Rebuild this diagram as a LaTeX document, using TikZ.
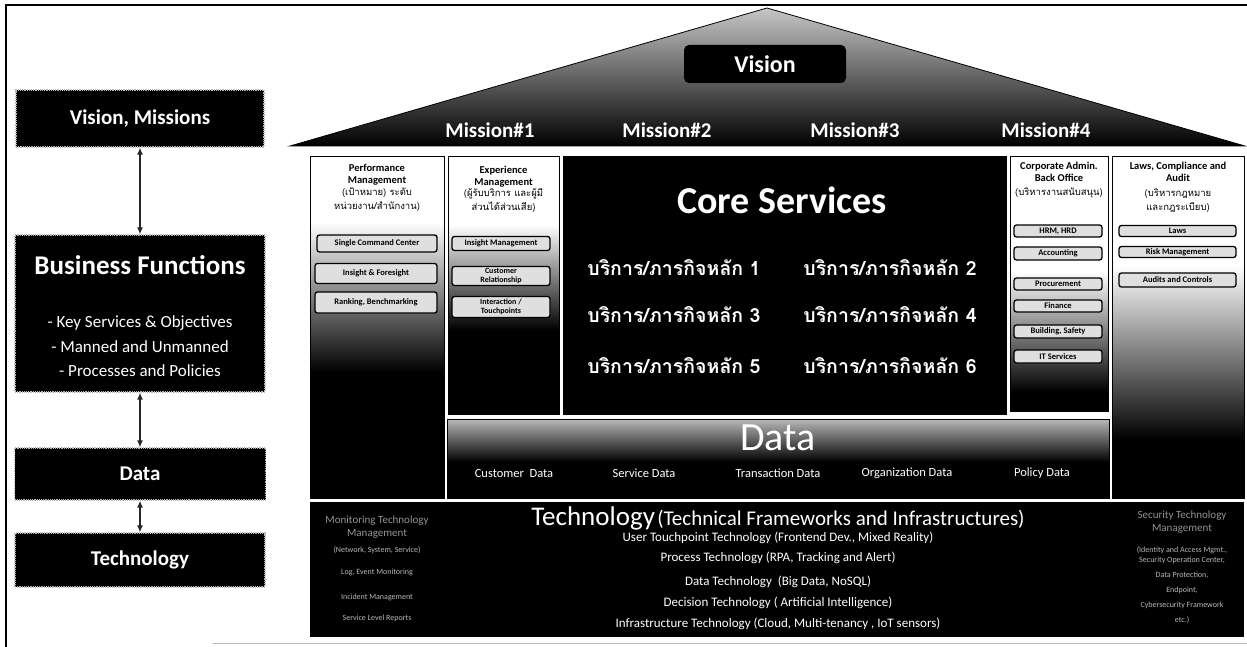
\documentclass[tikz,border=0pt]{standalone}
\usepackage{fontspec}
\setmainfont{Carlito}
\newfontfamily\thai[Script=Thai]{Loma}
\usetikzlibrary{arrows.meta}
\newcommand\fsz[2]{\fontsize{#1}{#2}\selectfont}
\newcommand\colshade[6]{%
  \fill[white] (#1,#2) rectangle (#3,#5);
  \shade[top color=white,bottom color=black] (#1,#5) rectangle (#3,#6);
  \fill[black] (#1,#6) rectangle (#3,#4);}
\tikzset{
  lbox/.style={fill=black, draw=gray!55, densely dotted, line width=1.2pt, text=white, font=\bfseries\fsz{21}{25}, inner sep=0pt},
  wt/.style={text=white, inner sep=0pt, align=center},
  colb/.style={draw=black, line width=0.9pt, inner sep=0pt},
  sbox/.style={draw=black, line width=1.3pt, rounded corners=2.5pt, fill=gray!25, text=black, font=\bfseries\fsz{8.5}{9}, align=center, inner sep=0pt},
  ctitle/.style={text=black, font=\bfseries\fsz{10.5}{12}, align=center, inner sep=0pt},
  cthai/.style={text=black, font=\thai\fsz{9.5}{14}, align=center, inner sep=0pt},
  arr/.style={{Latex[length=7pt,width=6pt]}-{Latex[length=7pt,width=6pt]}, line width=1.6pt, draw=black!85},
  svc/.style={text=white, font=\thai\bfseries\fsz{19.5}{22}, inner sep=0pt},
  dlab/.style={text=white, font=\fsz{12.5}{15}, inner sep=0pt},
  tlab/.style={text=white, font=\fsz{13}{15}, inner sep=0pt},
  faint/.style={text=gray!55, font=\fsz{8}{9}, inner sep=0pt},
  side/.style={text=gray!85, font=\fsz{11}{13}, align=center, inner sep=0pt},
  mis/.style={text=white, font=\bfseries\fsz{21}{25}, inner sep=0pt}
}
\begin{document}
\begin{tikzpicture}[x=1pt,y=-1pt]
\useasboundingbox (0,0) rectangle (1247,647);
\fill[white] (0,0) rectangle (1247,647);
% frame
\draw[line width=1.6pt] (6,647) -- (6,5) -- (1247,5);
\draw[gray!55, line width=1pt] (213,643) -- (1247,643);

% ---------- left column ----------
\node[lbox, minimum width=248, minimum height=57] (vm) at (140,118.5) {Vision, Missions};
\node[lbox, minimum width=250, minimum height=157] (bf) at (140,313.5) {};
\node[wt, font=\bfseries\fsz{27}{30}] (bft) at (140,265) {Business Functions};
\node[wt, font=\fsz{17}{20}] (bf1) at (140,323) {- Key Services \& Objectives};
\node[wt, font=\fsz{17}{20}] (bf2) at (140,347) {- Manned and Unmanned};
\node[wt, font=\fsz{17}{20}] (bf3) at (140,371) {- Processes and Policies};
\node[lbox, minimum width=251, minimum height=52] (dat) at (140,474) {Data};
\node[lbox, minimum width=250, minimum height=54] (tch) at (140,560) {Technology};
\draw[arr] (vm.south) -- (bf.north);
\draw[arr] (bf.south) -- (dat.north);
\draw[arr] (dat.south) -- (tch.north);

% ---------- roof ----------
\coordinate (apex) at (767,8);
\coordinate (rl) at (290,146);
\coordinate (rr) at (1245,146);
\shadedraw[top color=gray!45, bottom color=black, draw=black, line width=0.8pt] (rl) -- (apex) -- (rr) -- cycle;
\node[fill=black, rounded corners=5pt, minimum width=162, minimum height=38, text=white, font=\bfseries\fsz{24}{28}, inner sep=0pt] (vis) at (765,64) {Vision};
\node[mis] (m1) at (490,130) {Mission\#1};
\node[mis] (m2) at (667,130) {Mission\#2};
\node[mis] (m3) at (855,130) {Mission\#3};
\node[mis] (m4) at (1046,130) {Mission\#4};

% ---------- Performance Management ----------
\colshade{310}{156}{444}{498}{222}{372}
\node[colb, minimum width=134, minimum height=342, anchor=north west] (perf) at (310,156) {};
\node[ctitle] (perft) at (377,175) {Performance\\Management};
\node[cthai] (perfth) at (377,200) {(เป้าหมาย) ระดับ\\หน่วยงาน/สำนักงาน)};
\node[sbox, minimum width=120, minimum height=17] (p1) at (377,243.5) {Single Command Center};
\node[sbox, minimum width=122, minimum height=20] (p2) at (376,273.5) {Insight \& Foresight};
\node[sbox, minimum width=122, minimum height=21] (p3) at (376,302.5) {Ranking, Benchmarking};

% ---------- Experience Management ----------
\colshade{448}{156}{559}{414}{225}{330}
\node[colb, minimum width=111, minimum height=258, anchor=north west] (expc) at (448,156) {};
\node[ctitle] (expt) at (503.5,177) {Experience\\Management};
\node[cthai] (expth) at (503.5,200) {(ผู้รับบริการ และผู้มี\\ส่วนได้ส่วนเสีย)};
\node[sbox, minimum width=98, minimum height=14] (e1) at (501,243.5) {Insight Management};
\node[sbox, minimum width=98, minimum height=19, font=\bfseries\fsz{8}{8.5}] (e2) at (501,276) {Customer\\Relationship};
\node[sbox, minimum width=98, minimum height=21, font=\bfseries\fsz{8}{8.5}] (e3) at (501,307) {Interaction /\\Touchpoints};

% ---------- Core Services ----------
\node[fill=black, draw=black, minimum width=443, minimum height=258, anchor=north west, inner sep=0pt] (core) at (563,156) {};
\node[wt, font=\bfseries\fsz{38}{42}] (coret) at (782,200) {Core Services};
\node[svc] (s1) at (674,268) {บริการ/ภารกิจหลัก 1};
\node[svc] (s2) at (890,268) {บริการ/ภารกิจหลัก 2};
\node[svc] (s3) at (674,315) {บริการ/ภารกิจหลัก 3};
\node[svc] (s4) at (890,315) {บริการ/ภารกิจหลัก 4};
\node[svc] (s5) at (674,366) {บริการ/ภารกิจหลัก 5};
\node[svc] (s6) at (890,366) {บริการ/ภารกิจหลัก 6};

% ---------- Corporate Admin ----------
\colshade{1010}{156}{1108}{411}{272}{392}
\node[colb, minimum width=98, minimum height=255, anchor=north west] (corp) at (1010,156) {};
\node[ctitle] (corpt) at (1059,171.5) {Corporate Admin.\\Back Office};
\node[cthai] (corpth) at (1059,193) {(บริหารงานสนับสนุน)};
\node[sbox, minimum width=88, minimum height=12] (c1) at (1058,231) {HRM, HRD};
\node[sbox, minimum width=88, minimum height=13] (c2) at (1058,253.5) {Accounting};
\node[sbox, minimum width=88, minimum height=12] (c3) at (1058,284) {Procurement};
\node[sbox, minimum width=88, minimum height=12] (c4) at (1058,306) {Finance};
\node[sbox, minimum width=88, minimum height=13] (c5) at (1058,331.5) {Building, Safety};
\node[sbox, minimum width=88, minimum height=13] (c6) at (1058,356.5) {IT Services};

% ---------- Laws ----------
\colshade{1112}{156}{1244}{498}{265}{440}
\node[colb, minimum width=132, minimum height=342, anchor=north west] (laws) at (1112,156) {};
\node[ctitle] (lawst) at (1178,171.5) {Laws, Compliance and\\Audit};
\node[cthai] (lawsth) at (1178,201) {(บริหารกฎหมาย\\และกฎระเบียบ)};
\node[sbox, minimum width=117, minimum height=11] (l1) at (1177.5,231) {Laws};
\node[sbox, minimum width=117, minimum height=11] (l2) at (1177.5,252) {Risk Management};
\node[sbox, minimum width=117, minimum height=14] (l3) at (1177.5,280) {Audits and Controls};

% ---------- Data band ----------
\shade[top color=gray!55, bottom color=black] (447,419) rectangle (1109,462);
\fill[black] (447,462) rectangle (1109,498);
\node[colb, minimum width=662, minimum height=79, anchor=north west] (dband) at (447,419) {};
\node[wt, font=\fsz{40}{44}] (datat) at (778,438) {Data};
\node[dlab] (d1) at (514,473) {Customer\ \ Data};
\node[dlab] (d2) at (644,473) {Service Data};
\node[dlab] (d3) at (778,473) {Transaction Data};
\node[dlab] (d4) at (907,473) {Organization Data};
\node[dlab] (d5) at (1042,473) {Policy Data};

% ---------- Technology band ----------
\node[fill=black, minimum width=934, minimum height=135, anchor=north west, inner sep=0pt] (tband) at (310,502) {};
\node[wt, anchor=base] (techt) at (778,525) {{\fsz{27}{30}Technology} {\fsz{21}{24}(Technical Frameworks and Infrastructures)}};
\node[tlab] (t1) at (778,538) {User Touchpoint Technology (Frontend Dev., Mixed Reality)};
\node[tlab] (t2) at (778,558) {Process Technology (RPA, Tracking and Alert)};
\node[tlab] (t3) at (778,582) {Data Technology\ \ (Big Data, NoSQL)};
\node[tlab] (t4) at (778,603) {Decision Technology ( Artificial Intelligence)};
\node[tlab] (t5) at (778,624) {Infrastructure Technology (Cloud, Multi-tenancy , IoT sensors)};

\node[side] (mont) at (377,527) {Monitoring Technology\\Management};
\node[faint] (mo1) at (377,550) {(Network, System, Service)};
\node[faint] (mo2) at (377,572) {Log, Event Monitoring};
\node[faint] (mo3) at (377,597) {Incident Management};
\node[faint] (mo4) at (377,618) {Service Level Reports};

\node[side] (sect) at (1182,522) {Security Technology\\Management};
\node[faint] (se1) at (1182,550) {(Identity and Access Mgmt.,};
\node[faint] (se2) at (1182,560) {Security Operation Center,};
\node[faint] (se3) at (1182,575) {Data Protection,};
\node[faint] (se4) at (1182,590) {Endpoint,};
\node[faint] (se5) at (1182,605) {Cybersecurity Framework};
\node[faint] (se6) at (1182,620) {etc.)};
\end{tikzpicture}
\end{document}
